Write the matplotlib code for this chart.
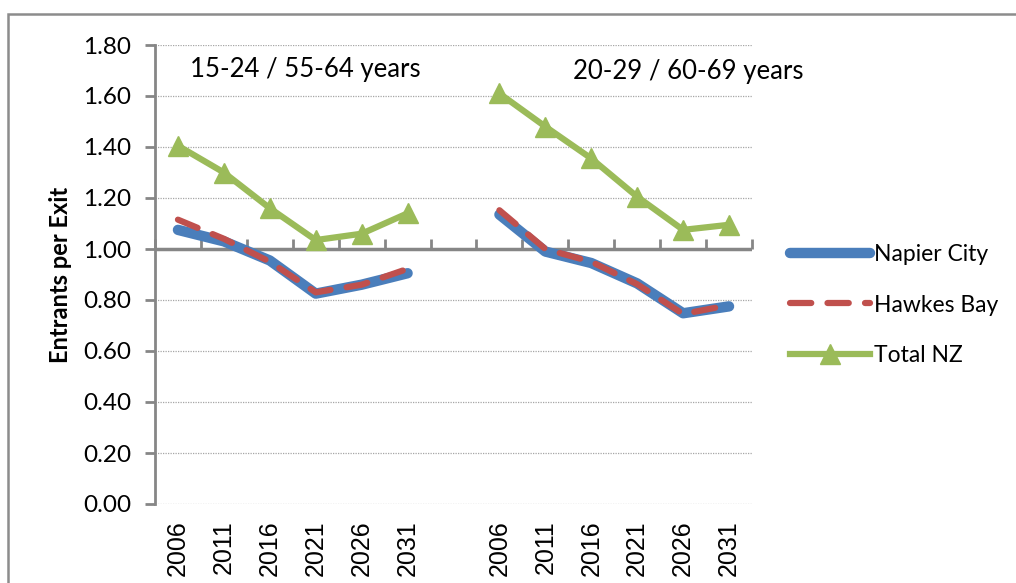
import numpy as np
import matplotlib
matplotlib.use("Agg")
import matplotlib.pyplot as plt
from matplotlib.patches import Rectangle

# categories (two age groups, gap between them)
years = ['2006', '2011', '2016', '2021', '2026', '2031']
group_titles = ['15-24 / 55-64 years', '20-29 / 60-69 years']

# values, left group then right group
napier_left = [1.075, 1.03, 0.955, 0.825, 0.86, 0.905]
napier_right = [1.135, 0.99, 0.945, 0.865, 0.748, 0.775]
hawkes_left = [1.115, 1.04, 0.95, 0.83, 0.86, 0.922]
hawkes_right = [1.152, 1.0, 0.95, 0.862, 0.745, 0.78]
totalnz_left = [1.405, 1.30, 1.16, 1.035, 1.06, 1.14]
totalnz_right = [1.61, 1.48, 1.355, 1.205, 1.075, 1.095]

labels = years + [''] + years
x = np.arange(len(labels))


def join(a, b):
    return np.array(a + [np.nan] + b, dtype=float)


napier = join(napier_left, napier_right)
hawkes = join(hawkes_left, hawkes_right)
totalnz = join(totalnz_left, totalnz_right)

fig = plt.figure(figsize=(10.16, 5.83), dpi=100)
ax = fig.add_axes([155 / 1016, 1 - 504 / 583, 597 / 1016, 459 / 583])

axis_grey = '#868686'
ax.plot(x, napier, color='#4A7EBB', lw=7.5, solid_capstyle='round',
        solid_joinstyle='round', label='Napier City', zorder=3)
ax.plot(x, hawkes, color='#C0504D', lw=4.5, dashes=(3.4, 2.6),
        dash_capstyle='round', label='Hawkes Bay', zorder=4)
ax.plot(x, totalnz, color='#9BBB59', lw=4.5, marker='^', markersize=14,
        label='Total NZ', zorder=5)

ax.set_xlim(-0.5, len(labels) - 0.5)
ax.set_ylim(0, 1.8)
ax.set_yticks(np.arange(0, 1.81, 0.2))
ax.set_yticklabels([f'{v:.2f}' for v in np.arange(0, 1.81, 0.2)],
                   family='Lato', fontsize=17.5)
ax.set_xticks(x)
ax.set_xticklabels(labels, rotation=90, family='Liberation Sans', fontsize=18)
ax.tick_params(axis='x', length=0, pad=12)
ax.tick_params(axis='y', length=7, width=2, color=axis_grey, pad=10)

ax.yaxis.grid(True, linestyle=(0, (1, 1)), color='#a6a6a6', lw=0.9)
ax.set_axisbelow(True)
for s in ['top', 'right', 'bottom']:
    ax.spines[s].set_visible(False)
ax.spines['left'].set_color(axis_grey)
ax.spines['left'].set_linewidth(2)

# horizontal axis crosses at 1.00, ticks between categories
ax.axhline(1.0, color=axis_grey, lw=2.5, zorder=2)
sec = ax.secondary_xaxis(1.0 / 1.8)
sec.set_xticks(np.arange(-0.5, len(labels), 1.0))
sec.set_xticklabels([])
sec.tick_params(direction='out', length=7, width=2, color=axis_grey)
for s in sec.spines.values():
    s.set_visible(False)

ax.set_ylabel('Entrants per Exit', family='Lato', fontweight='bold',
              fontsize=17, labelpad=8)

ax.text(0.251, 0.946, group_titles[0], transform=ax.transAxes,
        ha='center', va='center', family='Lato', fontsize=18.5)
ax.text(0.893, 0.943, group_titles[1], transform=ax.transAxes,
        ha='center', va='center', family='Lato', fontsize=18.5)

fig.legend(loc='center left', bbox_to_anchor=(790 / 1016, 1 - 305 / 583),
           frameon=False, prop={'family': 'Lato', 'size': 16.5},
           handlelength=3.5, handletextpad=0.15, labelspacing=1.3,
           borderpad=0, borderaxespad=0)

# outer chart frame (left and top edges visible)
fig.patches.append(Rectangle((8 / 1016, -0.1), 1.2, 1 - 14 / 583 + 0.1,
                             transform=fig.transFigure, fill=False,
                             edgecolor='#8c8c8c', lw=1.8))

fig.savefig('out.png', dpi=100)
